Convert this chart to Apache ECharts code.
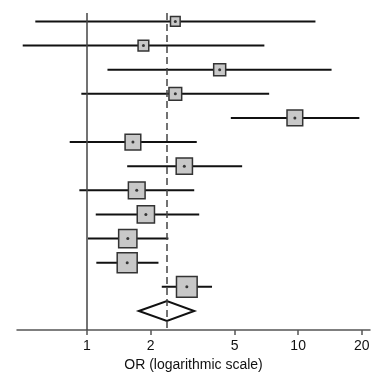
<!DOCTYPE html>
<html>
<head>
<meta charset="utf-8">
<script src="https://cdn.jsdelivr.net/npm/echarts@6/dist/echarts.min.js"></script>
<style>
html,body{margin:0;padding:0;background:#fff;}
#chart{width:374px;height:381px;}
</style>
</head>
<body>
<div id="chart"></div>
<script>
// Study rows (top to bottom)
const rows = [1,2,3,4,5,6,7,8,9,10,11,12];
const orEst = [2.62, 1.85, 4.25, 2.62, 9.65, 1.65, 2.89, 1.72, 1.90, 1.56, 1.55, 2.97];
const ciLow = [0.569, 0.496, 1.25, 0.94, 4.80, 0.828, 1.55, 0.92, 1.10, 1.01, 1.107, 2.26];
const ciHigh = [12.08, 6.92, 14.4, 7.29, 19.5, 3.31, 5.43, 3.22, 3.40, 2.43, 2.18, 3.91];
const weights = [3.1, 3.8, 4.8, 5.4, 8.2, 8.2, 8.8, 9.3, 9.9, 11.1, 13.3, 14.2];
// Pooled estimate
const pooledRow = 13;
const pooled = [1.76, 2.39, 3.22]; // low, estimate, high
const tickValues = [1, 2, 5, 10, 20];
const xRange = [0.466, 21.9];
const nullValue = 1;

const L = Math.log10;
const ciData = rows.map((r, i) => [L(ciLow[i]), L(ciHigh[i]), r]);
const boxData = rows.map((r, i) => ({ value: [L(orEst[i]), r], symbolSize: Math.sqrt(weights[i]) * 5.48 }));
const dotData = rows.map((r, i) => [L(orEst[i]), r]);
const diamondData = [[L(pooled[0]), L(pooled[1]), L(pooled[2]), pooledRow]];

const chart = echarts.init(document.getElementById('chart'), null, { renderer: 'canvas' });
chart.setOption({
  animation: false,
  backgroundColor: '#ffffff',
  grid: { left: 17, right: 4, top: 13, bottom: 51 },
  xAxis: {
    type: 'value',
    min: L(xRange[0]),
    max: L(xRange[1]),
    name: 'OR (logarithmic scale)',
    nameLocation: 'middle',
    nameGap: 20,
    nameTextStyle: { fontFamily: 'Liberation Sans, Arial, sans-serif', fontSize: 14, color: '#111' },
    splitLine: { show: false },
    axisLine: { lineStyle: { color: '#555', width: 1.5 } },
    axisTick: { show: true, length: 5, lineStyle: { color: '#555', width: 1.5 }, customValues: tickValues.map(L) },
    axisLabel: {
      customValues: tickValues.map(L),
      margin: 9,
      fontFamily: 'Liberation Sans, Arial, sans-serif',
      fontSize: 14,
      color: '#111',
      formatter: v => String(Math.round(Math.pow(10, v)))
    }
  },
  yAxis: {
    type: 'value',
    inverse: true,
    min: 0.65,
    max: 13.79,
    show: false,
    splitLine: { show: false }
  },
  series: [
    {
      type: 'custom',
      name: 'ci',
      data: ciData,
      encode: { x: [0, 1], y: 2 },
      renderItem: function (params, api) {
        const p1 = api.coord([api.value(0), api.value(2)]);
        const p2 = api.coord([api.value(1), api.value(2)]);
        return { type: 'line', shape: { x1: p1[0], y1: p1[1], x2: p2[0], y2: p2[1] }, style: { stroke: '#111', lineWidth: 2 } };
      },
      markLine: {
        silent: true,
        symbol: 'none',
        label: { show: false },
        data: [
          { xAxis: L(nullValue), lineStyle: { color: '#444', width: 1.5, type: 'solid' } },
          { xAxis: L(pooled[1]), lineStyle: { color: '#444', width: 1.5, type: [7, 4] } }
        ]
      },
      z: 2
    },
    {
      type: 'scatter',
      name: 'box',
      symbol: 'rect',
      data: boxData,
      itemStyle: { color: '#c8c8c8', borderColor: '#333', borderWidth: 1.5, opacity: 1 },
      z: 3
    },
    {
      type: 'scatter',
      name: 'dot',
      symbol: 'circle',
      symbolSize: 3,
      data: dotData,
      itemStyle: { color: '#111' },
      z: 4
    },
    {
      type: 'custom',
      name: 'pooled',
      data: diamondData,
      encode: { x: [0, 1, 2], y: 3 },
      renderItem: function (params, api) {
        const y = api.value(3);
        const a = api.coord([api.value(0), y]);
        const c = api.coord([api.value(1), y]);
        const b = api.coord([api.value(2), y]);
        return {
          type: 'polygon',
          shape: { points: [a, [c[0], c[1] - 10], b, [c[0], c[1] + 10]] },
          style: { fill: '#fff', stroke: '#111', lineWidth: 2 }
        };
      },
      z: 3
    }
  ]
});
</script>
</body>
</html>
